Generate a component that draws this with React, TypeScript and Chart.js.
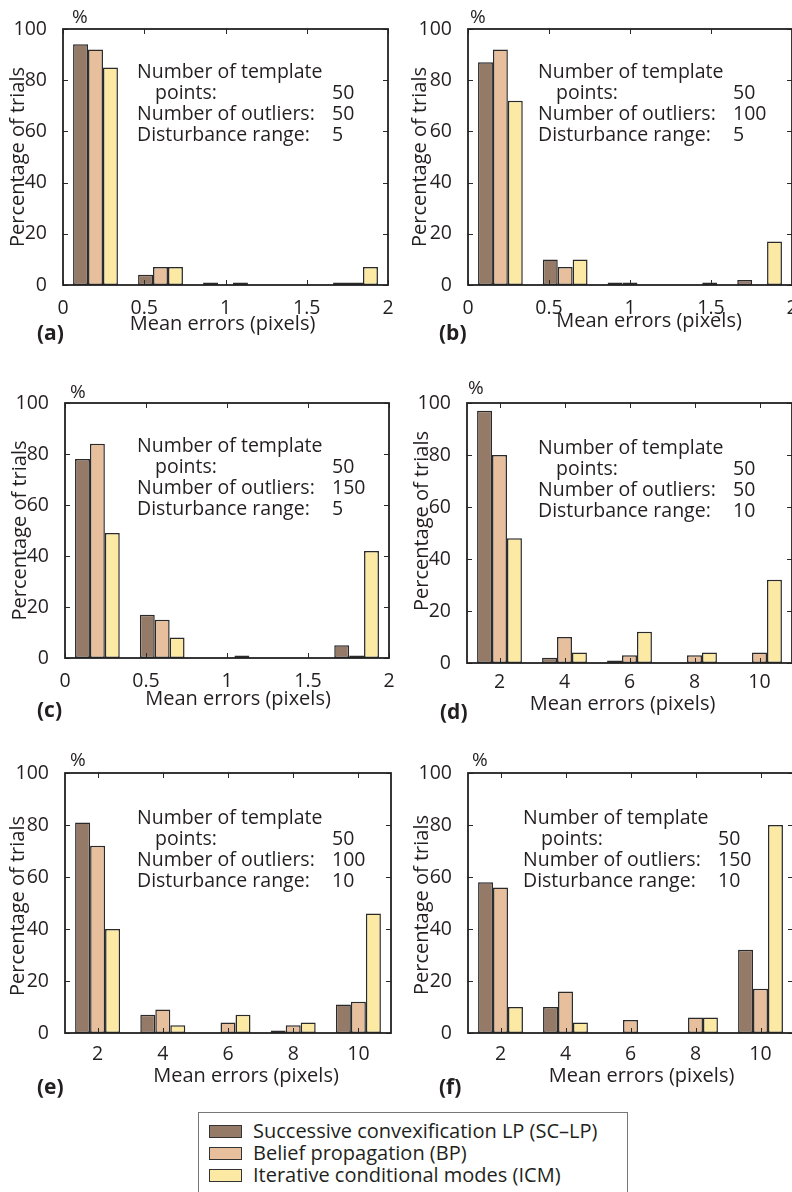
import React, { useEffect, useRef } from "react";
import { Chart, registerables } from "chart.js";

Chart.register(...registerables);

// ---------- DATA ----------
const SERIES_NAMES = [
  "Successive convexification LP (SC\u2013LP)",
  "Belief propagation (BP)",
  "Iterative conditional modes (ICM)",
];
const SERIES_COLORS = ["#957a67", "#e8bf9c", "#fbe9a4"];

const BINS_SMALL = [0.2, 0.6, 1.0, 1.4, 1.8];
const BINS_LARGE = [2, 4, 6, 8, 10];
const X_TICKS_SMALL = [0, 0.5, 1, 1.5, 2];
const X_TICKS_LARGE = [2, 4, 6, 8, 10];
const Y_TICKS = [0, 20, 40, 60, 80, 100];

const PANEL_LABELS = ["(a)", "(b)", "(c)", "(d)", "(e)", "(f)"];
const TEMPLATE_POINTS = [50, 50, 50, 50, 50, 50];
const OUTLIERS = [50, 100, 150, 50, 100, 150];
const DISTURBANCE = [5, 5, 5, 10, 10, 10];

const A_SC = [94, 4, 1, 0, 1];
const A_BP = [92, 7, 0, 0, 1];
const A_ICM = [85, 7, 1, 0, 7];

const B_SC = [87, 10, 1, 0, 2];
const B_BP = [92, 7, 1, 0, 0];
const B_ICM = [72, 10, 0, 1, 17];

const C_SC = [78, 17, 0, 0, 5];
const C_BP = [84, 15, 0, 0, 1];
const C_ICM = [49, 8, 1, 0, 42];

const D_SC = [97, 2, 1, 0, 0];
const D_BP = [80, 10, 3, 3, 4];
const D_ICM = [48, 4, 12, 4, 32];

const E_SC = [81, 7, 0, 1, 11];
const E_BP = [72, 9, 4, 3, 12];
const E_ICM = [40, 3, 7, 4, 46];

const F_SC = [58, 10, 0, 0, 32];
const F_BP = [56, 16, 5, 6, 17];
const F_ICM = [10, 4, 0, 6, 80];

const PANEL_SERIES = [
  [A_SC, A_BP, A_ICM],
  [B_SC, B_BP, B_ICM],
  [C_SC, C_BP, C_ICM],
  [D_SC, D_BP, D_ICM],
  [E_SC, E_BP, E_ICM],
  [F_SC, F_BP, F_ICM],
];

// ---------- LAYOUT (positions / styles) ----------
const LAYOUT = [
  { left: 63, top: 29, w: 325, h: 256, small: true, xPad: 4, xTitleDx: -3, xTitleDy: 38, yTitleDx: -45, yTitleDy: 0, labX: 37, labDy: 48, noteDx: 74, noteDy: 42, pctDx: 9, pctDy: -12 },
  { left: 468, top: 29, w: 324, h: 256, small: true, xPad: 4, xTitleDx: 19, xTitleDy: 35, yTitleDx: -48, yTitleDy: 0, labX: 439, labDy: 48, noteDx: 70, noteDy: 42, pctDx: 2, pctDy: -12 },
  { left: 65, top: 403, w: 324, h: 255, small: true, xPad: 4, xTitleDx: 11, xTitleDy: 40, yTitleDx: -45, yTitleDy: 0, labX: 37, labDy: 52, noteDx: 72, noteDy: 42, pctDx: 5, pctDy: -11 },
  { left: 467, top: 403, w: 325, h: 260, small: false, xPad: 0, xTitleDx: -7, xTitleDy: 40, yTitleDx: -45, yTitleDy: -12, labX: 440, labDy: 49, noteDx: 71, noteDy: 44, pctDx: 1, pctDy: -15 },
  { left: 65, top: 773, w: 326, h: 260, small: false, xPad: 2, xTitleDx: 18, xTitleDy: 42, yTitleDx: -47, yTitleDy: 3, labX: 37, labDy: 54, noteDx: 72, noteDy: 44, pctDx: 5, pctDy: -13 },
  { left: 468, top: 773, w: 325, h: 260, small: false, xPad: 2, xTitleDx: 11, xTitleDy: 42, yTitleDx: -46, yTitleDy: 2, labX: 439, labDy: 54, noteDx: 55, noteDy: 44, pctDx: 4, pctDy: -13 },
];

const FONT = '"Open Sans", "Noto Sans", sans-serif';
const TEXT = "#231f20";
const AXIS_W = 63;
const PAD_TOP = 29;
const PAD_RIGHT = 20;
const XAXIS_H = 30;
const PAD_BOTTOM = 45;

function Panel({ idx }: { idx: number }) {
  const ref = useRef<HTMLCanvasElement | null>(null);
  const L = LAYOUT[idx];
  const cw = AXIS_W + L.w + PAD_RIGHT;
  const ch = PAD_TOP + L.h + XAXIS_H + PAD_BOTTOM;
  const cLeft = L.left - AXIS_W;
  const cTop = L.top - PAD_TOP;

  useEffect(() => {
    if (!ref.current) return;
    const bins = L.small ? BINS_SMALL : BINS_LARGE;
    const xticks = L.small ? X_TICKS_SMALL : X_TICKS_LARGE;
    const series = PANEL_SERIES[idx];

    const framePlugin = {
      id: "frame" + idx,
      afterDraw(chart: any) {
        const { ctx, chartArea: a, scales } = chart;
        ctx.save();
        // inward ticks
        ctx.strokeStyle = "#2a2a2a";
        ctx.lineWidth = 1;
        const tl = 5;
        ctx.beginPath();
        scales.x.ticks.forEach((t: any) => {
          const px = Math.round(scales.x.getPixelForValue(t.value)) + 0.5;
          ctx.moveTo(px, a.bottom);
          ctx.lineTo(px, a.bottom - tl);
          ctx.moveTo(px, a.top);
          ctx.lineTo(px, a.top + tl);
        });
        scales.y.ticks.forEach((t: any) => {
          const py = Math.round(scales.y.getPixelForValue(t.value)) + 0.5;
          ctx.moveTo(a.left, py);
          ctx.lineTo(a.left + tl, py);
          ctx.moveTo(a.right, py);
          ctx.lineTo(a.right - tl, py);
        });
        ctx.stroke();
        // frame
        ctx.lineWidth = 1.8;
        ctx.strokeStyle = "#222";
        ctx.strokeRect(a.left, a.top, a.right - a.left, a.bottom - a.top);

        ctx.fillStyle = TEXT;
        ctx.textBaseline = "middle";
        // x title
        ctx.font = `20px ${FONT}`;
        ctx.textAlign = "center";
        ctx.fillText("Mean errors (pixels)", (a.left + a.right) / 2 + L.xTitleDx, a.bottom + L.xTitleDy + 1);
        // y title
        ctx.save();
        ctx.translate(a.left + L.yTitleDx, (a.top + a.bottom) / 2 + L.yTitleDy);
        ctx.rotate(-Math.PI / 2);
        ctx.fillText("Percentage of trials", 0, 0);
        ctx.restore();
        // percent sign
        ctx.textAlign = "left";
        ctx.font = `19px ${FONT}`;
        ctx.fillText("%", a.left + L.pctDx, a.top + L.pctDy + 1);
        // panel label
        ctx.font = `bold 21px ${FONT}`;
        ctx.fillText(PANEL_LABELS[idx], L.labX - cLeft, a.bottom + L.labDy + 1);
        // annotation
        ctx.font = `19.5px ${FONT}`;
        const x0 = a.left + L.noteDx;
        const y0 = a.top + L.noteDy + 1;
        const lh = 21.3;
        ctx.fillText("Number of template", x0, y0);
        ctx.fillText("points:", x0 + 18, y0 + lh);
        ctx.fillText(String(TEMPLATE_POINTS[idx]), x0 + 195, y0 + lh);
        ctx.fillText("Number of outliers:", x0, y0 + 2 * lh);
        ctx.fillText(String(OUTLIERS[idx]), x0 + 195, y0 + 2 * lh);
        ctx.fillText("Disturbance range:", x0, y0 + 3 * lh);
        ctx.fillText(String(DISTURBANCE[idx]), x0 + 195, y0 + 3 * lh);
        ctx.restore();
      },
    };

    const chart = new Chart(ref.current, {
      type: "bar",
      data: {
        datasets: series.map((vals, si) => ({
          label: SERIES_NAMES[si],
          data: bins.map((b, i) => ({ x: b, y: vals[i] })),
          backgroundColor: SERIES_COLORS[si],
          borderColor: "#2a2a2a",
          borderWidth: 1.5,
          borderSkipped: false,
          categoryPercentage: 0.69,
          barPercentage: 1,
        })),
      },
      options: {
        animation: false,
        responsive: false,
        events: [],
        layout: {
          autoPadding: false,
          padding: { left: 0, top: PAD_TOP, right: PAD_RIGHT, bottom: PAD_BOTTOM },
        },
        plugins: { legend: { display: false }, tooltip: { enabled: false } },
        scales: {
          x: {
            type: "linear",
            min: L.small ? 0 : 1,
            max: L.small ? 2 : 11,
            offset: false,
            grid: { display: false },
            border: { display: false },
            afterBuildTicks: (s: any) => {
              s.ticks = xticks.map((v) => ({ value: v }));
            },
            afterFit: (s: any) => {
              s.height = XAXIS_H;
            },
            ticks: {
              padding: L.xPad,
              maxRotation: 0,
              autoSkip: false,
              color: TEXT,
              font: { family: FONT, size: 19.5 },
              callback: (v: any) => String(v),
            },
          },
          y: {
            type: "linear",
            min: 0,
            max: 100,
            grid: { display: false },
            border: { display: false },
            afterBuildTicks: (s: any) => {
              s.ticks = Y_TICKS.map((v) => ({ value: v }));
            },
            afterFit: (s: any) => {
              s.width = AXIS_W;
            },
            ticks: {
              padding: 8,
              color: TEXT,
              font: { family: FONT, size: 19.5 },
              callback: (v: any) => String(v),
            },
          },
        },
      } as any,
      plugins: [framePlugin],
    });
    return () => chart.destroy();
  }, []);

  return (
    <canvas
      ref={ref}
      width={cw}
      height={ch}
      style={{ position: "absolute", left: cLeft, top: cTop, width: cw, height: ch }}
    />
  );
}

function Legend() {
  return (
    <div
      style={{
        position: "absolute",
        left: 198,
        top: 1112,
        width: 430,
        height: 100,
        border: "1px solid #777",
        boxSizing: "border-box",
        paddingTop: 7,
        fontFamily: FONT,
        fontSize: 20,
        color: TEXT,
      }}
    >
      {SERIES_NAMES.map((name, i) => (
        <div key={i} style={{ display: "flex", alignItems: "center", height: 22, lineHeight: "22px" }}>
          <div
            style={{
              marginLeft: 10,
              width: 33,
              height: 13,
              boxSizing: "border-box",
              background: SERIES_COLORS[i],
              border: "1px solid #333",
            }}
          />
          <span style={{ marginLeft: 11, whiteSpace: "nowrap" }}>{name}</span>
        </div>
      ))}
    </div>
  );
}

export default function App() {
  return (
    <div
      style={{
        position: "absolute",
        left: 0,
        top: 0,
        width: 792,
        height: 1192,
        overflow: "hidden",
        background: "#fff",
      }}
    >
      {LAYOUT.map((_, i) => (
        <Panel key={i} idx={i} />
      ))}
      <Legend />
    </div>
  );
}
